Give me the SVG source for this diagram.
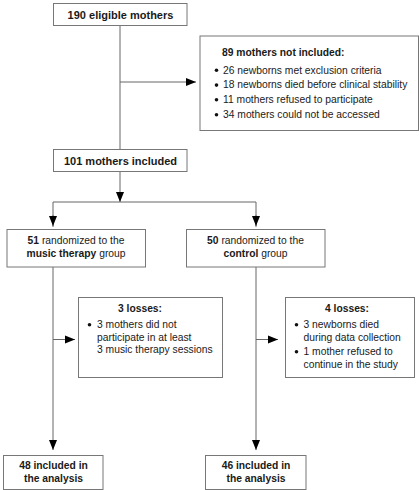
<svg xmlns="http://www.w3.org/2000/svg" width="419" height="490" viewBox="0 0 419 490">
<style>
text{font-family:"Liberation Sans",Arial,sans-serif;font-size:10.3px;fill:#1a1a1a}
.b{font-weight:bold}
.big{font-size:11px}
.box{fill:#fff;stroke:#777;stroke-width:1}
.ln{fill:none;stroke:#666;stroke-width:1}
.c{text-anchor:middle}
.dot{fill:#111}
</style>
<defs>
<marker id="ah" markerUnits="userSpaceOnUse" markerWidth="10" markerHeight="10" viewBox="0 0 10 10" refX="10" refY="5" orient="auto">
<path d="M0,1 L10,5 L0,9 Z" fill="#000"/>
</marker>
</defs>
<g id="connectors">
<line class="ln" x1="120" y1="25.5" x2="120" y2="149"/>
<line class="ln" x1="120" y1="82" x2="196" y2="82" marker-end="url(#ah)"/>
<line class="ln" x1="120" y1="171" x2="120" y2="202" marker-end="url(#ah)"/>
<polyline class="ln" points="53,227 53,202 256,202 256,227"/>
<line class="ln" x1="53" y1="215" x2="53" y2="226" marker-end="url(#ah)"/>
<line class="ln" x1="256" y1="215" x2="256" y2="226" marker-end="url(#ah)"/>
<line class="ln" x1="53" y1="267" x2="53" y2="450" marker-end="url(#ah)"/>
<line class="ln" x1="256" y1="267" x2="256" y2="450" marker-end="url(#ah)"/>
<line class="ln" x1="53" y1="339.5" x2="75" y2="339.5" marker-end="url(#ah)"/>
<line class="ln" x1="256" y1="339.5" x2="278" y2="339.5" marker-end="url(#ah)"/>
</g>
<g id="eligible">
<rect class="box" x="53.5" y="3.5" width="133.5" height="22"/>
<text class="b big c" x="120.5" y="19">190 eligible mothers</text>
</g>
<g id="not-included">
<rect class="box" x="200" y="36" width="218.5" height="94.5"/>
<text class="b" x="222" y="56">89 mothers not included:</text>
<circle class="dot" cx="216.5" cy="70.3" r="1.8"/>
<text x="223" y="73.5">26 newborns met exclusion criteria</text>
<circle class="dot" cx="216.5" cy="85.1" r="1.8"/>
<text x="223" y="88.3">18 newborns died before clinical stability</text>
<circle class="dot" cx="216.5" cy="99.8" r="1.8"/>
<text x="223" y="103">11 mothers refused to participate</text>
<circle class="dot" cx="216.5" cy="114.8" r="1.8"/>
<text x="223" y="118">34 mothers could not be accessed</text>
</g>
<g id="included">
<rect class="box" x="53.5" y="149.5" width="133.5" height="22"/>
<text class="b big c" x="120.5" y="165">101 mothers included</text>
</g>
<g id="music">
<rect class="box" x="7" y="229.5" width="138.5" height="37.5"/>
<text class="c" x="76" y="244"><tspan class="b">51</tspan> randomized to the</text>
<text class="c" x="76" y="256.8"><tspan class="b">music therapy</tspan> group</text>
</g>
<g id="control">
<rect class="box" x="186.5" y="229.5" width="138.5" height="37.5"/>
<text class="c" x="255.5" y="244"><tspan class="b">50</tspan> randomized to the</text>
<text class="c" x="255.5" y="256.8"><tspan class="b">control</tspan> group</text>
</g>
<g id="losses-music">
<rect class="box" x="78.5" y="297.5" width="144" height="80"/>
<text class="b c" x="140" y="312">3 losses:</text>
<circle class="dot" cx="89.5" cy="324.8" r="1.8"/>
<text x="97" y="328">3 mothers did not</text>
<text x="97" y="340.5">participate in at least</text>
<text x="97" y="353">3 music therapy sessions</text>
</g>
<g id="losses-control">
<rect class="box" x="285.5" y="297.5" width="129" height="80"/>
<text class="b c" x="347" y="312">4 losses:</text>
<circle class="dot" cx="296.5" cy="324.8" r="1.8"/>
<text x="303.5" y="328">3 newborns died</text>
<text x="303.5" y="340.5">during data collection</text>
<circle class="dot" cx="296.5" cy="351.8" r="1.8"/>
<text x="303.5" y="355">1 mother refused to</text>
<text x="303.5" y="367.5">continue in the study</text>
</g>
<g id="analysis-music">
<rect class="box" x="3.5" y="455.5" width="99.5" height="34"/>
<text class="b c" x="53.5" y="469">48 included in</text>
<text class="b c" x="53.5" y="481.5">the analysis</text>
</g>
<g id="analysis-control">
<rect class="box" x="205.5" y="455.5" width="100.5" height="34"/>
<text class="b c" x="256" y="469">46 included in</text>
<text class="b c" x="256" y="481.5">the analysis</text>
</g>
</svg>
